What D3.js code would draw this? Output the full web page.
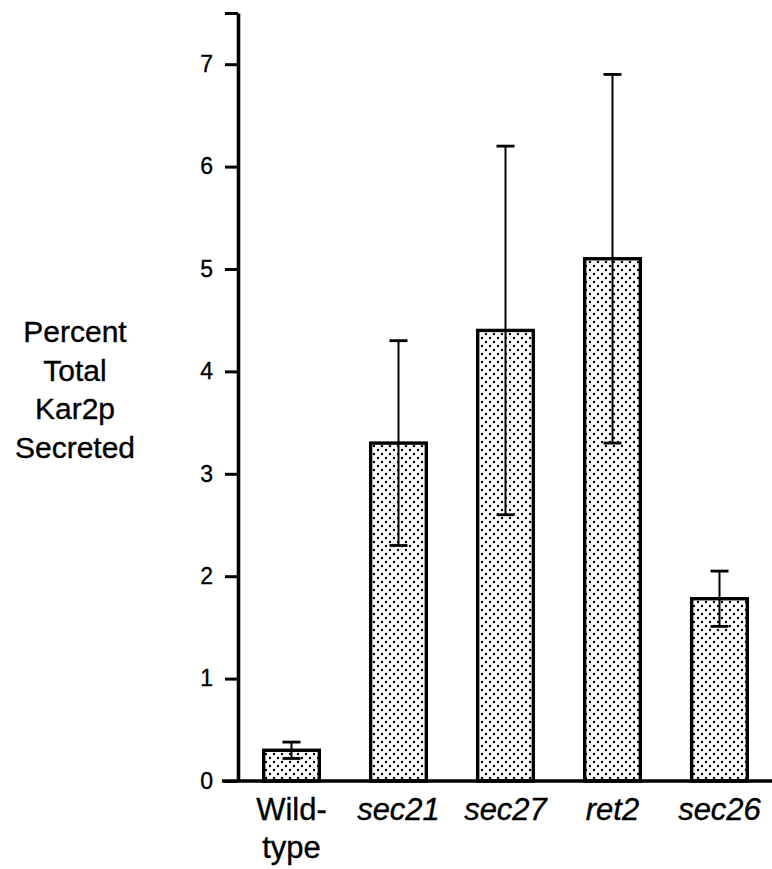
<!DOCTYPE html>
<html>
<head>
<meta charset="utf-8">
<script src="https://cdn.jsdelivr.net/npm/d3@7"></script>
<style>
  html, body { margin: 0; padding: 0; background: #fff; }
  svg { display: block; }
  text { font-family: "Liberation Sans", Arial, Helvetica, sans-serif; fill: #000; stroke: #000; stroke-width: 0.35px; }
</style>
</head>
<body>
<svg id="chart" width="772" height="869"></svg>
<script>
// Strains, mean percent of Kar2p secreted, and error (± half-range)
const strains = ["Wild-type", "sec21", "sec27", "ret2", "sec26"];
const labelLines = [["Wild-", "type"], ["sec21"], ["sec27"], ["ret2"], ["sec26"]];
const italicLabel = [false, true, true, true, true];
const secreted = [0.3, 3.3, 4.4, 5.1, 1.78];
const errors = [0.08, 1.0, 1.8, 1.8, 0.27];
const yTicks = [0, 1, 2, 3, 4, 5, 6, 7];
const yTopTick = 7.5;
const titleLines = ["Percent", "Total", "Kar2p", "Secreted"];

const svg = d3.select("#chart");

const x0 = 238, x1 = 773, yBase = 781, yTop = 13;

const x = d3.scaleBand()
  .domain(strains)
  .range([x0, x1])
  .paddingInner(0.48)
  .paddingOuter(0.24);

const y = d3.scaleLinear()
  .domain([0, yTopTick])
  .range([yBase, yTop]);

// Stipple fill for the bars
const defs = svg.append("defs");
const pat = defs.append("pattern")
  .attr("id", "stipple")
  .attr("patternUnits", "userSpaceOnUse")
  .attr("width", 8)
  .attr("height", 8);
pat.append("rect").attr("width", 8).attr("height", 8).attr("fill", "#fff");
pat.append("circle").attr("cx", 2).attr("cy", 2).attr("r", 1.2).attr("fill", "#000");
pat.append("circle").attr("cx", 6).attr("cy", 6).attr("r", 1.2).attr("fill", "#000");

// Bars
svg.append("g")
  .selectAll("rect")
  .data(strains)
  .join("rect")
  .attr("x", d => x(d))
  .attr("y", (d, i) => y(secreted[i]))
  .attr("width", x.bandwidth())
  .attr("height", (d, i) => yBase - y(secreted[i]))
  .attr("fill", "url(#stipple)")
  .attr("stroke", "#000")
  .attr("stroke-width", 3.4);

// Error bars
const capHalf = 9;
const eb = svg.append("g").attr("stroke", "#000");
strains.forEach((s, i) => {
  const cx = x(s) + x.bandwidth() / 2;
  const hi = y(secreted[i] + errors[i]);
  const lo = y(secreted[i] - errors[i]);
  eb.append("line").attr("x1", cx).attr("x2", cx).attr("y1", hi).attr("y2", lo).attr("stroke-width", 2);
  eb.append("line").attr("x1", cx - capHalf).attr("x2", cx + capHalf).attr("y1", hi).attr("y2", hi).attr("stroke-width", 2.8);
  eb.append("line").attr("x1", cx - capHalf).attr("x2", cx + capHalf).attr("y1", lo).attr("y2", lo).attr("stroke-width", 2.8);
});

// Y axis
const yAxis = d3.axisLeft(y)
  .tickValues(yTicks.concat([yTopTick]))
  .tickFormat(d => yTicks.includes(d) ? d3.format("d")(d) : "")
  .tickSize(13)
  .tickSizeOuter(0)
  .tickPadding(12);

const gy = svg.append("g")
  .attr("transform", `translate(${x0},0)`)
  .call(yAxis);
gy.select(".domain").attr("stroke-width", 3.6);
gy.selectAll(".tick line").attr("stroke-width", 3);
gy.selectAll(".tick text")
  .style("font-size", "23px")
  .attr("fill", "#000")
  .style("font-family", "\"Liberation Sans\", Arial, sans-serif");

// X axis baseline, running a little past the y axis on the left
svg.append("line")
  .attr("x1", 222).attr("x2", 772)
  .attr("y1", yBase).attr("y2", yBase)
  .attr("stroke", "#000")
  .attr("stroke-width", 3.6);

// Category labels
const xl = svg.append("g");
strains.forEach((s, i) => {
  const cx = x(s) + x.bandwidth() / 2;
  const t = xl.append("text")
    .attr("x", cx)
    .attr("y", 820)
    .attr("text-anchor", "middle")
    .style("font-size", "31px")
    .style("font-style", italicLabel[i] ? "italic" : "normal");
  labelLines[i].forEach((ln, j) => {
    t.append("tspan").attr("x", cx).attr("dy", j === 0 ? 0 : 38).text(ln);
  });
});

// Y axis title
const title = svg.append("text")
  .attr("x", 75)
  .attr("y", 342)
  .attr("text-anchor", "middle")
  .style("font-size", "30px");
titleLines.forEach((ln, j) => {
  title.append("tspan").attr("x", 75).attr("dy", j === 0 ? 0 : 38.5).text(ln);
});
</script>
</body>
</html>
